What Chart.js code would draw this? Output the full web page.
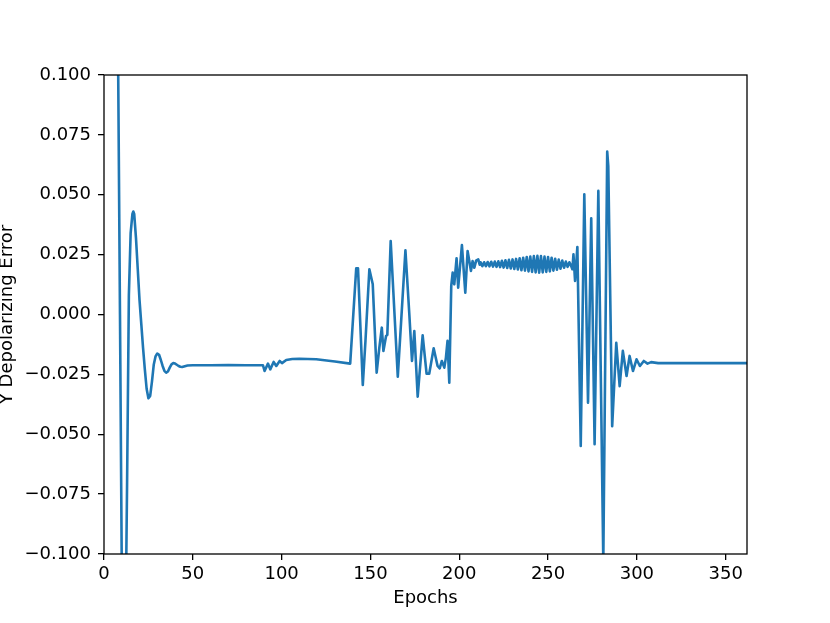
<!DOCTYPE html>
<html>
<head>
<meta charset="utf-8">
<script src="https://cdn.jsdelivr.net/npm/chart.js@4/dist/chart.umd.min.js"></script>
<style>
  html, body { margin: 0; padding: 0; background: #fff; }
  #wrap { width: 830px; height: 623px; }
</style>
</head>
<body>
<div id="wrap"><canvas id="errChart" width="830" height="623"></canvas></div>
<script>
// Y depolarizing error per epoch
const epochs = [
  0, 2, 4, 6, 7, 8, 9, 10, 11, 12, 13, 14, 15, 16, 16.5, 17, 18, 19, 20,
  21, 22, 23, 24, 25, 26, 27, 28, 29, 30, 31, 32, 33, 34, 35, 36, 37, 38, 39, 40,
  41, 42, 43, 44, 45, 47, 50, 60, 70, 80,
  89.5, 90.4, 92.3, 93.6, 95.5, 97, 98.9, 100.2, 102.6, 106, 110, 119.5, 130, 138.6,
  142, 143, 145.7, 147.2, 149.4, 151.3, 153.5, 155, 156.4, 157.3, 158.8, 159.5,
  161.4, 165.4, 169.7, 171.9, 173.4, 174.7, 176.6, 179.4, 181.6, 183.1, 185.6,
  187.8, 189, 190.2, 191.6, 192.5, 193.4, 194.4, 195.5, 196.3, 197.2, 198.5,
  199.4, 201.5, 203.4, 204.7, 206.6, 207.5, 208.5, 209.5, 210.7, 211.5,
  212, 213, 214, 215, 216, 217, 218, 219, 220, 221, 222, 223, 224, 225, 226, 227,
  228, 229, 230, 231, 232, 233, 234, 235, 236, 237, 238, 239, 240, 241, 242, 243,
  244, 245, 246, 247, 248, 249, 250, 251, 252, 253, 254, 255, 256, 257, 258, 259,
  260, 261, 262, 263,
  263.7, 264.3, 265.2, 266.5, 268.4, 270.4, 272.5, 274.3, 276.2, 278.3, 281.1,
  283.3, 283.9, 286.1, 288.4, 290.3, 292.1, 294.2, 295.9, 297.8, 299.8, 301.7,
  303.9, 306, 308, 312, 330, 362
];
const yErr = [
  0.6, 0.4, 0.25, 0.16, 0.13, 0.1, 0.0, -0.105, -0.16, -0.14, -0.07, 0.008, 0.034, 0.042, 0.043, 0.042, 0.032, 0.019, 0.006,
  -0.004, -0.014, -0.023, -0.031, -0.035, -0.034, -0.028, -0.021, -0.0175, -0.0163, -0.0168, -0.019, -0.0215, -0.0235, -0.0243, -0.0238, -0.0222, -0.0208, -0.0203, -0.0205,
  -0.021, -0.0215, -0.0218, -0.0219, -0.0217, -0.0213, -0.0212, -0.0212, -0.0211, -0.0212,
  -0.0212, -0.0236, -0.0205, -0.0229, -0.0198, -0.0215, -0.0194, -0.0203, -0.019, -0.0186, -0.0185, -0.0187, -0.0196, -0.0205,
  0.0193, 0.0193, -0.0294, -0.011, 0.0189, 0.0126, -0.0243, -0.0139, -0.0055, -0.0152, -0.009, -0.0085,
  0.0307, -0.026, 0.0268, 0.0, -0.0194, -0.0069, -0.0343, -0.0087, -0.0247, -0.0247, -0.0141,
  -0.0215, -0.0225, -0.0194, -0.0222, -0.018, -0.011, -0.0285, 0.012, 0.0175, 0.0126, 0.0235,
  0.0112, 0.029, 0.0091, 0.0265, 0.0182, 0.0223, 0.0195, 0.0225, 0.023, 0.0208,
  0.0218, 0.0202, 0.0218, 0.0202, 0.0219, 0.0201, 0.0220, 0.0200, 0.0221, 0.0199, 0.0222, 0.0198, 0.0224, 0.0196, 0.0226, 0.0194,
  0.0228, 0.0192, 0.0230, 0.0190, 0.0232, 0.0188, 0.0235, 0.0185, 0.0237, 0.0183, 0.0240, 0.0180, 0.0242, 0.0178, 0.0244, 0.0176,
  0.0245, 0.0175, 0.0244, 0.0176, 0.0242, 0.0178, 0.0240, 0.0180, 0.0237, 0.0183, 0.0233, 0.0187, 0.0229, 0.0191, 0.0225, 0.0195,
  0.0221, 0.0199, 0.0218, 0.0202,
  0.0189, 0.0251, 0.014, 0.0282, -0.0549, 0.0502, -0.0368, 0.0402, -0.0542, 0.0516, -0.103,
  0.068, 0.062, -0.0466, -0.0118, -0.0299, -0.0152, -0.0257, -0.0173, -0.0236, -0.0187, -0.0215,
  -0.0194, -0.0205, -0.0199, -0.0203, -0.0203, -0.0203
];
const xTickStep = 50;
const yTickStep = 0.025;

const points = epochs.map((e, i) => ({ x: e, y: yErr[i] }));

const font = { family: 'DejaVu Sans', size: 18 };

// matplotlib-style box around the axes
const frame = {
  id: 'frame',
  afterDraw(chart) {
    const a = chart.chartArea;
    const c = chart.ctx;
    c.save();
    c.strokeStyle = '#000';
    c.lineWidth = 1.3;
    c.strokeRect(a.left, a.top, a.right - a.left, a.bottom - a.top);
    c.restore();
  }
};

const fmtY = v => {
  const s = Number(v).toFixed(3);
  return s.startsWith('-') ? '\u2212' + s.slice(1) : s;
};

new Chart(document.getElementById('errChart'), {
  type: 'line',
  data: {
    datasets: [{
      data: points,
      borderColor: '#1f77b4',
      borderWidth: 2.6,
      borderJoinStyle: 'round',
      borderCapStyle: 'round',
      pointRadius: 0,
      tension: 0,
      fill: false,
      clip: 0
    }]
  },
  options: {
    responsive: false,
    animation: false,
    devicePixelRatio: 1,
    layout: { padding: { top: 75, right: 83, left: 0, bottom: 0 } },
    plugins: { legend: { display: false }, tooltip: { enabled: false } },
    scales: {
      x: {
        type: 'linear',
        min: 0,
        max: 362,
        afterFit: s => { s.height = 69; },
        border: { display: false },
        grid: { drawOnChartArea: false, drawTicks: true, tickLength: 6, color: '#000', lineWidth: 1.3 },
        ticks: {
          stepSize: xTickStep, includeBounds: false, autoSkip: false, maxRotation: 0,
          color: '#000', font: font, padding: 4
        },
        title: { display: true, text: 'Epochs', color: '#000', font: font, padding: { top: 0, bottom: 14 } }
      },
      y: {
        min: -0.1,
        max: 0.1,
        afterFit: s => { s.width = 104; },
        border: { display: false },
        grid: { drawOnChartArea: false, drawTicks: true, tickLength: 6, color: '#000', lineWidth: 1.3 },
        ticks: {
          stepSize: yTickStep, autoSkip: false, color: '#000', font: font, padding: 7,
          callback: v => fmtY(v)
        },
        title: {
          display: true, text: 'Y Depolarizing Error', color: '#000',
          font: { family: 'DejaVu Sans', size: 18, lineHeight: 0.85 }, padding: 0
        }
      }
    }
  },
  plugins: [frame]
});
</script>
</body>
</html>
